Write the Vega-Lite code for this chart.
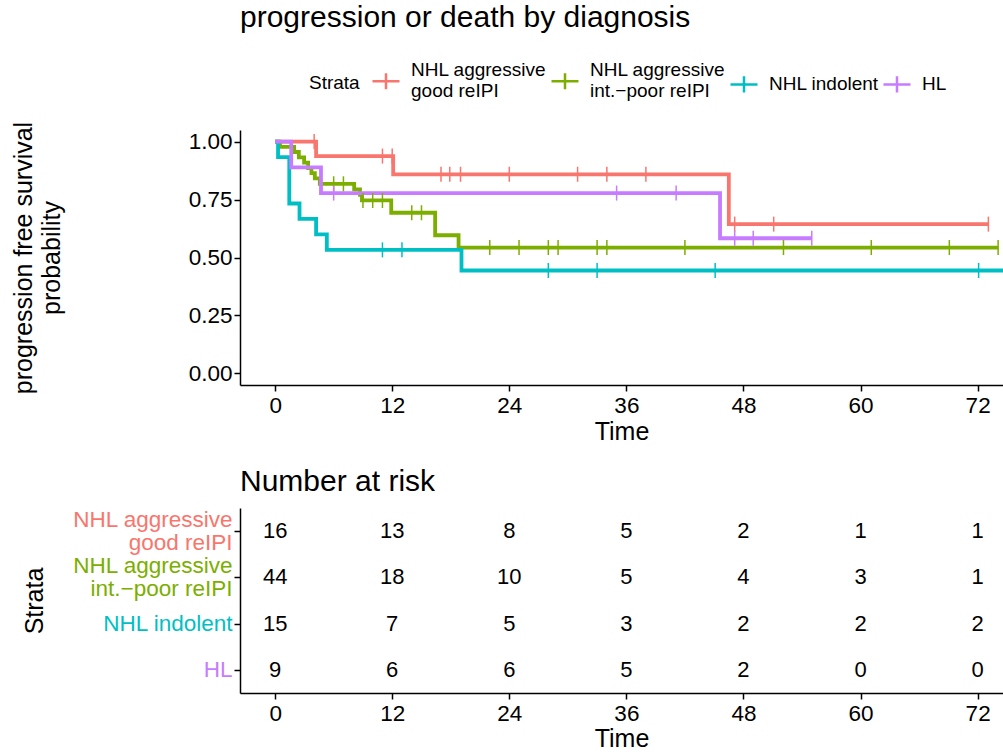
{
  "$schema": "https://vega.github.io/schema/vega-lite/v6.json",
  "background": "white",
  "padding": {"left": 11, "top": 3, "right": 0, "bottom": 0},
  "spacing": 22,
  "config": {
    "font": "Liberation Sans",
    "view": {"stroke": null},
    "axis": {
      "grid": false,
      "domainColor": "black",
      "domainWidth": 1.5,
      "tickColor": "black",
      "tickWidth": 1.5,
      "tickSize": 6,
      "labelColor": "black",
      "labelFontSize": 22.5,
      "labelPadding": 3,
      "titleColor": "black",
      "titleFontSize": 25,
      "titleFontWeight": "normal"
    }
  },
  "datasets": {
    "curves": [
      {"strata": "NHL aggressive good reIPI", "time": 0, "surv": 1},
      {"strata": "NHL aggressive good reIPI", "time": 4.2, "surv": 0.9375},
      {"strata": "NHL aggressive good reIPI", "time": 12.1, "surv": 0.859},
      {"strata": "NHL aggressive good reIPI", "time": 46.5, "surv": 0.644},
      {"strata": "NHL aggressive good reIPI", "time": 73.1, "surv": 0.644},
      {"strata": "NHL aggressive int.−poor reIPI", "time": 0, "surv": 1},
      {"strata": "NHL aggressive int.−poor reIPI", "time": 0.5, "surv": 0.977},
      {"strata": "NHL aggressive int.−poor reIPI", "time": 1.95, "surv": 0.955},
      {"strata": "NHL aggressive int.−poor reIPI", "time": 2.43, "surv": 0.932},
      {"strata": "NHL aggressive int.−poor reIPI", "time": 2.97, "surv": 0.909},
      {"strata": "NHL aggressive int.−poor reIPI", "time": 3.38, "surv": 0.886},
      {"strata": "NHL aggressive int.−poor reIPI", "time": 3.72, "surv": 0.864},
      {"strata": "NHL aggressive int.−poor reIPI", "time": 4.07, "surv": 0.841},
      {"strata": "NHL aggressive int.−poor reIPI", "time": 4.58, "surv": 0.818},
      {"strata": "NHL aggressive int.−poor reIPI", "time": 8.1, "surv": 0.794},
      {"strata": "NHL aggressive int.−poor reIPI", "time": 8.7, "surv": 0.770},
      {"strata": "NHL aggressive int.−poor reIPI", "time": 8.9, "surv": 0.746},
      {"strata": "NHL aggressive int.−poor reIPI", "time": 11.9, "surv": 0.693},
      {"strata": "NHL aggressive int.−poor reIPI", "time": 16.4, "surv": 0.596},
      {"strata": "NHL aggressive int.−poor reIPI", "time": 18.8, "surv": 0.543},
      {"strata": "NHL aggressive int.−poor reIPI", "time": 74.1, "surv": 0.543},
      {"strata": "NHL indolent", "time": 0, "surv": 1},
      {"strata": "NHL indolent", "time": 0.3, "surv": 0.933},
      {"strata": "NHL indolent", "time": 1.45, "surv": 0.733},
      {"strata": "NHL indolent", "time": 2.5, "surv": 0.667},
      {"strata": "NHL indolent", "time": 4.2, "surv": 0.6},
      {"strata": "NHL indolent", "time": 5.3, "surv": 0.533},
      {"strata": "NHL indolent", "time": 19.1, "surv": 0.444},
      {"strata": "NHL indolent", "time": 76, "surv": 0.444},
      {"strata": "HL", "time": 0, "surv": 1},
      {"strata": "HL", "time": 1.65, "surv": 0.889},
      {"strata": "HL", "time": 4.7, "surv": 0.778},
      {"strata": "HL", "time": 45.6, "surv": 0.583},
      {"strata": "HL", "time": 55.0, "surv": 0.583}
    ],
    "censor": [
      {"strata": "NHL aggressive good reIPI", "time": 4.0, "surv": 1},
      {"strata": "NHL aggressive good reIPI", "time": 11.0, "surv": 0.9375},
      {"strata": "NHL aggressive good reIPI", "time": 12.0, "surv": 0.9375},
      {"strata": "NHL aggressive good reIPI", "time": 17.0, "surv": 0.859},
      {"strata": "NHL aggressive good reIPI", "time": 17.9, "surv": 0.859},
      {"strata": "NHL aggressive good reIPI", "time": 19.0, "surv": 0.859},
      {"strata": "NHL aggressive good reIPI", "time": 24.0, "surv": 0.859},
      {"strata": "NHL aggressive good reIPI", "time": 31.0, "surv": 0.859},
      {"strata": "NHL aggressive good reIPI", "time": 34.0, "surv": 0.859},
      {"strata": "NHL aggressive good reIPI", "time": 38.0, "surv": 0.859},
      {"strata": "NHL aggressive good reIPI", "time": 47.1, "surv": 0.644},
      {"strata": "NHL aggressive good reIPI", "time": 51.1, "surv": 0.644},
      {"strata": "NHL aggressive good reIPI", "time": 73.1, "surv": 0.644},
      {"strata": "NHL aggressive int.−poor reIPI", "time": 6.0, "surv": 0.818},
      {"strata": "NHL aggressive int.−poor reIPI", "time": 7.0, "surv": 0.818},
      {"strata": "NHL aggressive int.−poor reIPI", "time": 9.0, "surv": 0.746},
      {"strata": "NHL aggressive int.−poor reIPI", "time": 10.0, "surv": 0.746},
      {"strata": "NHL aggressive int.−poor reIPI", "time": 11.0, "surv": 0.746},
      {"strata": "NHL aggressive int.−poor reIPI", "time": 14.0, "surv": 0.693},
      {"strata": "NHL aggressive int.−poor reIPI", "time": 15.0, "surv": 0.693},
      {"strata": "NHL aggressive int.−poor reIPI", "time": 22.0, "surv": 0.543},
      {"strata": "NHL aggressive int.−poor reIPI", "time": 25.0, "surv": 0.543},
      {"strata": "NHL aggressive int.−poor reIPI", "time": 28.0, "surv": 0.543},
      {"strata": "NHL aggressive int.−poor reIPI", "time": 29.0, "surv": 0.543},
      {"strata": "NHL aggressive int.−poor reIPI", "time": 33.0, "surv": 0.543},
      {"strata": "NHL aggressive int.−poor reIPI", "time": 34.0, "surv": 0.543},
      {"strata": "NHL aggressive int.−poor reIPI", "time": 42.0, "surv": 0.543},
      {"strata": "NHL aggressive int.−poor reIPI", "time": 52.1, "surv": 0.543},
      {"strata": "NHL aggressive int.−poor reIPI", "time": 61.1, "surv": 0.543},
      {"strata": "NHL aggressive int.−poor reIPI", "time": 69.1, "surv": 0.543},
      {"strata": "NHL aggressive int.−poor reIPI", "time": 74.1, "surv": 0.543},
      {"strata": "NHL indolent", "time": 11.0, "surv": 0.533},
      {"strata": "NHL indolent", "time": 13.0, "surv": 0.533},
      {"strata": "NHL indolent", "time": 28.0, "surv": 0.444},
      {"strata": "NHL indolent", "time": 33.0, "surv": 0.444},
      {"strata": "NHL indolent", "time": 45.1, "surv": 0.444},
      {"strata": "NHL indolent", "time": 72.1, "surv": 0.444},
      {"strata": "HL", "time": 6.0, "surv": 0.778},
      {"strata": "HL", "time": 35.0, "surv": 0.778},
      {"strata": "HL", "time": 41.1, "surv": 0.778},
      {"strata": "HL", "time": 47.1, "surv": 0.583},
      {"strata": "HL", "time": 49.0, "surv": 0.583},
      {"strata": "HL", "time": 55.0, "surv": 0.583}
    ],
    "risk": [
      {"strata": "NHL aggressive good reIPI", "time": 0, "n": 16},
      {"strata": "NHL aggressive good reIPI", "time": 12, "n": 13},
      {"strata": "NHL aggressive good reIPI", "time": 24, "n": 8},
      {"strata": "NHL aggressive good reIPI", "time": 36, "n": 5},
      {"strata": "NHL aggressive good reIPI", "time": 48, "n": 2},
      {"strata": "NHL aggressive good reIPI", "time": 60, "n": 1},
      {"strata": "NHL aggressive good reIPI", "time": 72, "n": 1},
      {"strata": "NHL aggressive int.−poor reIPI", "time": 0, "n": 44},
      {"strata": "NHL aggressive int.−poor reIPI", "time": 12, "n": 18},
      {"strata": "NHL aggressive int.−poor reIPI", "time": 24, "n": 10},
      {"strata": "NHL aggressive int.−poor reIPI", "time": 36, "n": 5},
      {"strata": "NHL aggressive int.−poor reIPI", "time": 48, "n": 4},
      {"strata": "NHL aggressive int.−poor reIPI", "time": 60, "n": 3},
      {"strata": "NHL aggressive int.−poor reIPI", "time": 72, "n": 1},
      {"strata": "NHL indolent", "time": 0, "n": 15},
      {"strata": "NHL indolent", "time": 12, "n": 7},
      {"strata": "NHL indolent", "time": 24, "n": 5},
      {"strata": "NHL indolent", "time": 36, "n": 3},
      {"strata": "NHL indolent", "time": 48, "n": 2},
      {"strata": "NHL indolent", "time": 60, "n": 2},
      {"strata": "NHL indolent", "time": 72, "n": 2},
      {"strata": "HL", "time": 0, "n": 9},
      {"strata": "HL", "time": 12, "n": 6},
      {"strata": "HL", "time": 24, "n": 6},
      {"strata": "HL", "time": 36, "n": 5},
      {"strata": "HL", "time": 48, "n": 2},
      {"strata": "HL", "time": 60, "n": 0},
      {"strata": "HL", "time": 72, "n": 0}
    ]
  },
  "vconcat": [
    {
      "width": 763,
      "height": 255,
      "title": {"text": "progression or death by diagnosis", "anchor": "start", "frame": "group", "fontSize": 30, "fontWeight": "normal", "color": "black", "offset": 88},
      "encoding": {
        "x": {"field": "time", "type": "quantitative", "scale": {"domain": [-3.6, 74.6], "nice": false, "zero": false}, "axis": {"values": [0, 12, 24, 36, 48, 60, 72], "title": "Time", "titlePadding": 3}},
        "y": {"field": "surv", "type": "quantitative", "scale": {"domain": [-0.05, 1.05], "nice": false}, "axis": {"values": [0, 0.25, 0.5, 0.75, 1], "format": ".2f", "title": ["progression free survival", "probability"], "titleLineHeight": 28, "titlePadding": 124, "labelPadding": 2}},
        "color": {"field": "strata", "type": "nominal",
          "scale": {"domain": ["NHL aggressive good reIPI", "NHL aggressive int.−poor reIPI", "NHL indolent", "HL"], "range": ["#F8766D", "#7CAE00", "#00BFC4", "#C77CFF"]},
          "legend": {"orient": "none", "legendX": 69, "legendY": -64, "direction": "horizontal", "title": "Strata", "titleOrient": "left", "titleFontSize": 19, "titleFontWeight": "normal", "titleColor": "black", "titlePadding": 11, "labelFontSize": 19, "labelColor": "black", "labelOffset": 10, "columnPadding": -1, "symbolType": "M-1,0H1M0,-0.6V0.6", "symbolSize": 729, "symbolStrokeWidth": 2.5,
            "labelExpr": "datum.label == 'NHL aggressive good reIPI' ? ['NHL aggressive', 'good reIPI'] : datum.label == 'NHL aggressive int.−poor reIPI' ? ['NHL aggressive', 'int.−poor reIPI'] : datum.label",
            "encode": {"labels": {"update": {"dy": {"signal": "indexof(datum.value, 'NHL aggressive') >= 0 ? -11.5 : 0"}}}}}
        }
      },
      "layer": [
        {"data": {"name": "curves"}, "mark": {"type": "line", "interpolate": "step-after", "strokeWidth": 3.8, "clip": true}},
        {"data": {"name": "censor"}, "mark": {"type": "point", "shape": "M0,-1V1", "filled": false, "size": 225, "strokeWidth": 1.5, "opacity": 1, "clip": true}}
      ]
    },
    {
      "width": 763,
      "height": 185,
      "title": {"text": "Number at risk", "anchor": "start", "frame": "group", "fontSize": 30, "fontWeight": "normal", "color": "black", "offset": 11},
      "data": {"name": "risk"},
      "mark": {"type": "text", "fontSize": 22, "color": "black"},
      "encoding": {
        "x": {"field": "time", "type": "quantitative", "scale": {"domain": [-3.6, 74.6], "nice": false, "zero": false}, "axis": {"values": [0, 12, 24, 36, 48, 60, 72], "title": "Time", "titlePadding": 2}},
        "y": {"field": "strata", "type": "nominal", "sort": ["NHL aggressive good reIPI", "NHL aggressive int.−poor reIPI", "NHL indolent", "HL"], "scale": {"paddingInner": 0, "paddingOuter": 0.1},
          "axis": {"title": "Strata", "titlePadding": 24, "labelLineHeight": 23, "labelPadding": 2,
            "labelExpr": "datum.label == 'NHL aggressive good reIPI' ? ['NHL aggressive', 'good reIPI'] : datum.label == 'NHL aggressive int.−poor reIPI' ? ['NHL aggressive', 'int.−poor reIPI'] : datum.label",
            "labelColor": {"expr": "datum.value == 'HL' ? '#C77CFF' : datum.value == 'NHL indolent' ? '#00BFC4' : indexof(datum.value, 'int.') >= 0 ? '#7CAE00' : '#F8766D'"},
            "labelOffset": {"expr": "indexof(datum.value, 'NHL aggressive') >= 0 ? -11.5 : 0"}}},
        "text": {"field": "n", "type": "quantitative"}
      }
    }
  ]
}
